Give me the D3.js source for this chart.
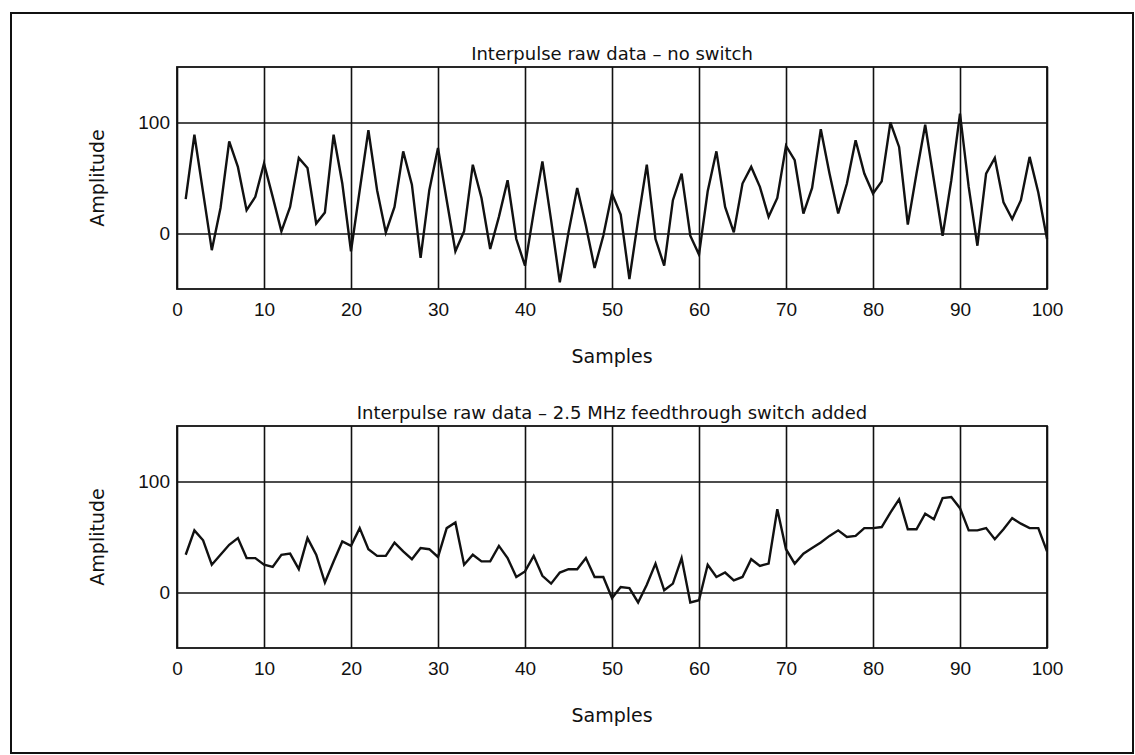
<!DOCTYPE html>
<html>
<head>
<meta charset="utf-8">
<script src="https://cdn.jsdelivr.net/npm/d3@7"></script>
<style>
  body { margin: 0; background: #fff; }
  svg { display: block; font-family: "DejaVu Sans", sans-serif; }
  .grid line { stroke: #111; stroke-width: 1.6; }
  .grid .domain { display: none; }
  .grid text { font-size: 19px; fill: #111; }
  .title { font-size: 18px; fill: #111; }
  .axis-title { font-size: 19px; fill: #111; }
</style>
</head>
<body>
<svg id="chart" width="1135" height="755"></svg>
<script>
// amplitude per sample (samples 1..100)
const noSwitch = [
  31, 89, 37, -15, 23, 83, 60, 21, 33, 63,
  33, 2, 24, 68, 59, 9, 19, 89, 45, -16,
  39, 93, 39, 1, 24, 74, 44, -22, 39, 77,
  30, -16, 2, 62, 32, -14, 15, 48, -5, -29,
  19, 65, 12, -44, 1, 41, 7, -31, -2, 36,
  17, -41, 12, 62, -5, -29, 30, 54, -2, -19,
  38, 74, 24, 1, 45, 60, 42, 15, 32, 79,
  66, 18, 41, 94, 54, 18, 45, 84, 54, 36,
  47, 100, 78, 8, 54, 98, 48, -2, 48, 108,
  42, -11, 54, 68, 28, 13, 30, 69, 37, -5
];
const withSwitch = [
  34, 56, 47, 25, 34, 43, 49, 31, 31, 25,
  23, 34, 35, 21, 49, 34, 9, 28, 46, 42,
  58, 39, 33, 33, 45, 37, 30, 40, 39, 32,
  58, 63, 25, 34, 28, 28, 42, 31, 14, 19,
  33, 15, 8, 18, 21, 21, 31, 14, 14, -5,
  5, 4, -9, 7, 26, 2, 8, 31, -9, -7,
  25, 14, 18, 11, 14, 30, 24, 26, 75, 39,
  26, 35, 40, 45, 51, 56, 50, 51, 58, 58,
  59, 72, 84, 57, 57, 71, 66, 85, 86, 76,
  56, 56, 58, 48, 57, 67, 62, 58, 58, 37
];
const xTicks = [0, 10, 20, 30, 40, 50, 60, 70, 80, 90, 100];
const yTicks = [0, 100];
const titles = [
  "Interpulse raw data \u2013 no switch",
  "Interpulse raw data \u2013 2.5 MHz feedthrough switch added"
];

const svg = d3.select("#chart");
svg.append("rect").attr("width", 1135).attr("height", 755).attr("fill", "#fff");

// outer frame
svg.append("rect")
   .attr("x", 11).attr("y", 13)
   .attr("width", 1122).attr("height", 740)
   .attr("fill", "none").attr("stroke", "#111").attr("stroke-width", 2);

const margin = {left: 177, right: 88};
const width = 1135 - margin.left - margin.right;
const height = 222;

const x = d3.scaleLinear().domain([0, 100]).range([0, width]);
const y = d3.scaleLinear().domain([-50, 150]).range([height, 0]);

const line = d3.line()
  .x((d, i) => x(i + 1))
  .y(d => y(d));

const drawPanel = (data, title, top) => {
  const g = svg.append("g")
    .attr("transform", "translate(" + margin.left + "," + top + ")");

  // vertical grid + x labels
  g.append("g")
    .attr("class", "grid")
    .attr("transform", "translate(0," + height + ")")
    .call(d3.axisBottom(x).tickValues(xTicks).tickSize(-height).tickPadding(14));

  // horizontal grid + y labels
  g.append("g")
    .attr("class", "grid")
    .call(d3.axisLeft(y).tickValues(yTicks).tickSize(-width).tickPadding(7));

  g.append("rect")
    .attr("width", width).attr("height", height)
    .attr("fill", "none").attr("stroke", "#111").attr("stroke-width", 1.8);

  g.append("path")
    .datum(data)
    .attr("fill", "none")
    .attr("stroke", "#111")
    .attr("stroke-width", 2.4)
    .attr("stroke-linejoin", "miter")
    .attr("d", line);

  g.append("text")
    .attr("class", "title")
    .attr("x", width / 2).attr("y", -7)
    .style("text-anchor", "middle")
    .text(title);

  g.append("text")
    .attr("class", "axis-title")
    .attr("x", width / 2).attr("y", height + 74)
    .style("text-anchor", "middle")
    .text("Samples");

  g.append("text")
    .attr("class", "axis-title")
    .attr("transform", "rotate(-90)")
    .attr("x", -(y(50)))
    .attr("y", -80)
    .attr("dy", "0.35em")
    .style("text-anchor", "middle")
    .text("Amplitude");
};

drawPanel(noSwitch, titles[0], 67);
drawPanel(withSwitch, titles[1], 426);
</script>
</body>
</html>
